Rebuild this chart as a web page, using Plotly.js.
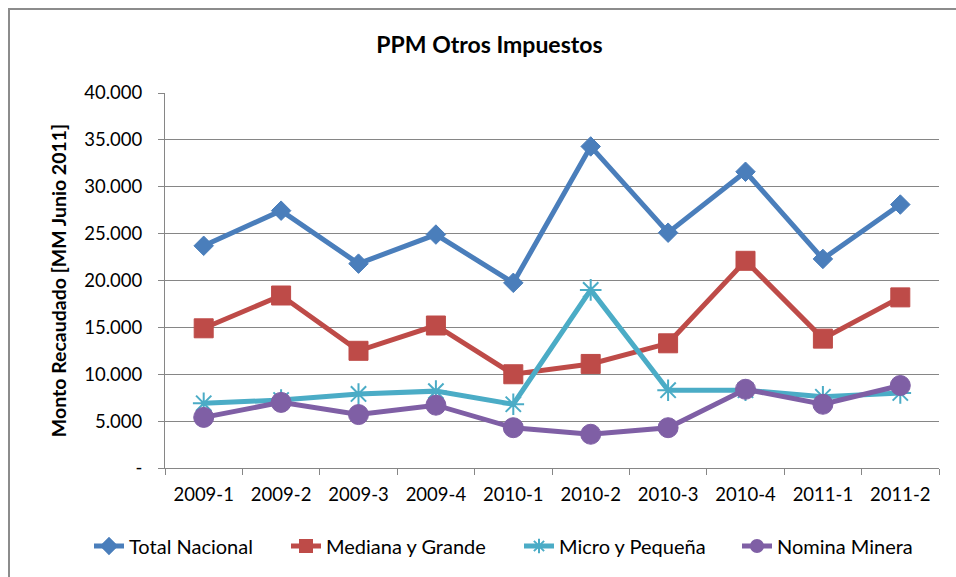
<!DOCTYPE html>
<html>
<head>
<meta charset="utf-8">
<script src="https://cdn.plot.ly/plotly-3.0.1.min.js"></script>
<style>
  html, body { margin: 0; padding: 0; background: #fff; }
  #wrap { position: relative; width: 956px; height: 577px; overflow: hidden; }
  #chart { position: absolute; left: 0; top: 0; width: 956px; height: 577px; }
  #frame { position: absolute; left: 8px; top: 8px; width: 1000px; height: 700px;
           border: 2px solid #8c8c8c; box-sizing: border-box; pointer-events: none; }
</style>
</head>
<body>
<div id="wrap">
  <div id="chart"></div>
  <div id="frame"></div>
</div>
<script>
const categories = ["2009-1","2009-2","2009-3","2009-4","2010-1","2010-2","2010-3","2010-4","2011-1","2011-2"];
const totalNacional   = [23700, 27450, 21800, 24900, 19750, 34300, 25100, 31600, 22300, 28100];
const medianaGrande   = [14900, 18400, 12500, 15200, 10000, 11100, 13300, 22100, 13800, 18200];
const microPequena    = [6900, 7250, 7900, 8200, 6800, 19000, 8300, 8300, 7600, 8000];
const nominaMinera    = [5400, 7000, 5700, 6700, 4300, 3600, 4300, 8400, 6800, 8800];
const yTickVals  = [0, 5000, 10000, 15000, 20000, 25000, 30000, 35000, 40000];
const yTickText  = ["-", "5.000", "10.000", "15.000", "20.000", "25.000", "30.000", "35.000", "40.000"];

const FONT = "Lato, 'Open Sans', sans-serif";

function series(name, y, color, symbol, size, lw, legendId) {
  return {
    type: "scatter", mode: "lines+markers", name: name, legend: legendId,
    x: categories, y: y,
    line: { color: color, width: 5 },
    marker: { symbol: symbol, size: size, color: color, line: { color: color, width: lw } }
  };
}

const traces = [
  series("Total Nacional", totalNacional, "#4a7ebb", "diamond", 15, 1, "legend"),
  series("Mediana y Grande", medianaGrande, "#be4b48", "square", 19, 1, "legend2"),
  series("Micro y Pequeña", microPequena, "#4bacc6", "asterisk-open", 18, 2, "legend3"),
  series("Nomina Minera", nominaMinera, "#7f5fa5", "circle", 20, 1, "legend4")
];

function leg(px) {
  return { orientation: "h", xref: "container", yref: "container", x: px / 956, xanchor: "left",
           y: 31 / 577, yanchor: "middle", font: { family: FONT, size: 20, color: "#000" },
           itemsizing: "constant", bgcolor: "rgba(0,0,0,0)" };
}

const layout = {
  width: 956, height: 577,
  margin: { l: 165, r: 17, t: 93, b: 109 },
  paper_bgcolor: "#ffffff", plot_bgcolor: "#ffffff",
  font: { family: FONT, size: 18, color: "#000" },
  title: { text: "<b>PPM Otros Impuestos</b>", font: { family: FONT, size: 23, color: "#000" },
           x: 0.512, xanchor: "center", y: 0.922, yanchor: "middle" },
  showlegend: true,
  legend: leg(89),
  legend2: leg(286),
  legend3: leg(519),
  legend4: leg(737),
  xaxis: {
    type: "category", range: [-0.5, 9.5],
    showgrid: false, showline: true, linecolor: "#868686", linewidth: 1,
    ticks: "outside", ticklen: 6, tickcolor: "#868686", tickson: "boundaries",
    ticklabelstandoff: 10,
    tickfont: { family: FONT, size: 18.5, color: "#000" }, zeroline: false
  },
  yaxis: {
    range: [0, 40000], tickvals: yTickVals, ticktext: yTickText,
    showgrid: true, gridcolor: "#868686", gridwidth: 1,
    showline: true, linecolor: "#868686", linewidth: 1,
    ticks: "outside", ticklen: 6, tickcolor: "#868686",
    ticklabelstandoff: 12,
    tickfont: { family: FONT, size: 18.5, color: "#000" }, zeroline: false,
    title: { text: "<b>Monto Recaudado [MM Junio 2011]</b>", font: { family: FONT, size: 19.5, color: "#000" }, standoff: 12 }
  }
};

Plotly.newPlot("chart", traces, layout, { displayModeBar: false, staticPlot: true });
</script>
</body>
</html>
